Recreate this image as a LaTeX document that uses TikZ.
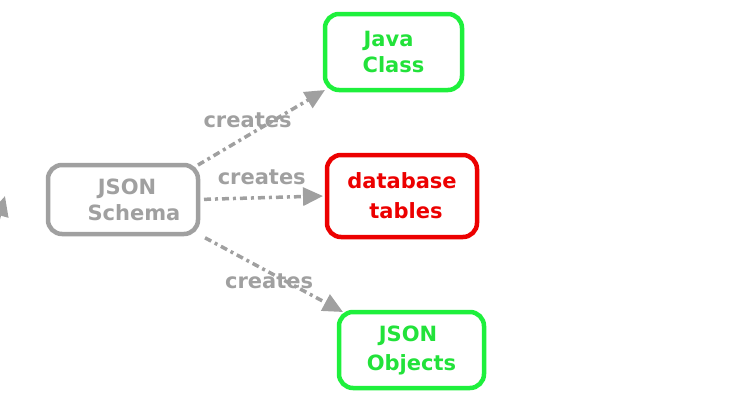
\documentclass[tikz,border=0pt]{standalone}
\usepackage{fontspec}
\setmainfont{DejaVu Sans}
\usetikzlibrary{arrows.meta}
\definecolor{flowgray}{HTML}{A0A0A0}
\definecolor{javagreen}{HTML}{1EF03C}
\definecolor{textgreen}{HTML}{22E23A}
\definecolor{dbred}{HTML}{EC0000}

\begin{document}
\begin{tikzpicture}[x=1pt, y=-1pt,
    box/.style={draw, line width=4.5pt, rounded corners=14pt, outer sep=0pt, inner sep=2pt, align=center,
      font=\fontsize{21}{26}\selectfont\bfseries},
    flow/.style={draw=flowgray, line width=3.5pt, dash pattern=on 7pt off 4pt on 3pt off 4pt,
      -{Triangle[length=20pt,width=18pt]}},
    lbl/.style={text=flowgray, inner sep=0pt, font=\fontsize{21}{26}\selectfont\bfseries}]
      \useasboundingbox (0,0) rectangle (735,413);

      \node (schema) at (123,199.5) [box, draw=flowgray, text=flowgray, minimum width=150pt, minimum height=69pt]
        {\hspace*{8pt}JSON\\\hspace*{22pt}Schema};
      \node (java) at (393.5,52) [box, draw=javagreen, text=textgreen, minimum width=137pt, minimum height=76pt]
        {Java\hspace*{10pt}\\Class};
      \node (db) at (402,196) [box, draw=dbred, text=dbred, minimum width=150pt, minimum height=82pt,
        font=\fontsize{21}{30}\selectfont\bfseries]
        {database\\\hspace*{8pt}tables};
      \node (objects) at (411.5,350) [box, draw=javagreen, text=textgreen, minimum width=145pt, minimum height=76pt,
        font=\fontsize{21}{29}\selectfont\bfseries]
        {JSON\hspace*{7pt}\\Objects};

      \coordinate (offtail) at (-2,220);
      \coordinate (offtip) at (5,196);

      \draw[flow] (schema.north east) -- node[lbl, pos=0.39, yshift=15pt] {creates} (java.south west);
      \draw[flow, shorten <=6pt] (schema.east) -- node[lbl, pos=0.51, yshift=20pt] {creates} ([xshift=-4pt]db.west);
      \draw[flow, shorten <=8pt] (schema.south east) -- node[lbl, pos=0.49, yshift=-9pt] {creates} ([xshift=4pt]objects.north west);
      \draw[flow] (offtail) -- (offtip);

    \end{tikzpicture}
\end{document}
